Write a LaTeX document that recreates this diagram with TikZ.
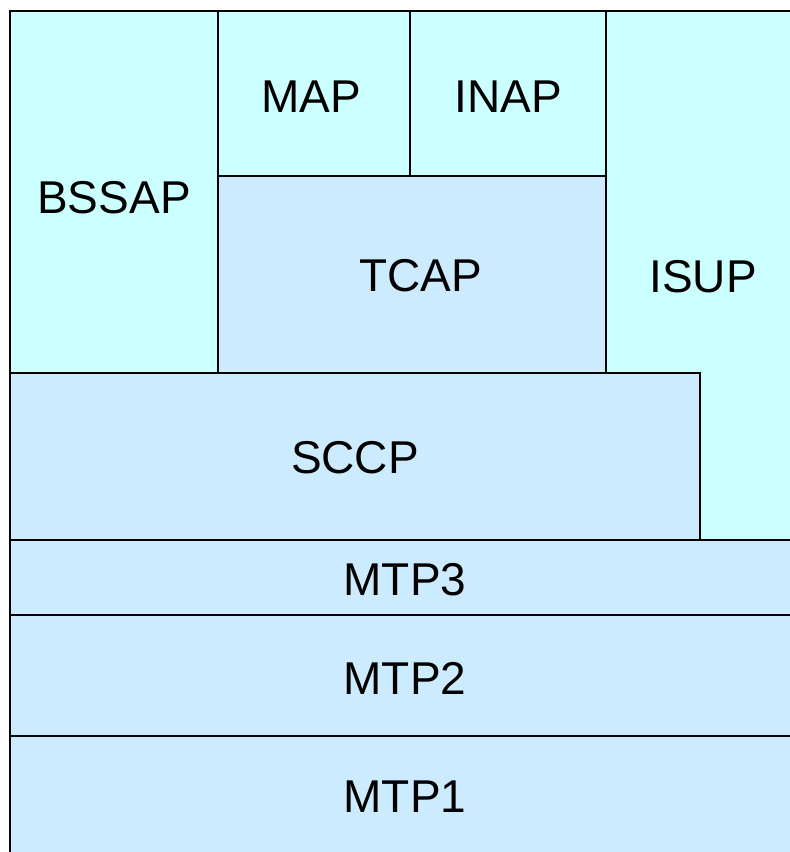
\documentclass[tikz,border=0pt]{standalone}
\usepackage{fontspec}
\setmainfont{Liberation Sans}
\definecolor{appcyan}{HTML}{CCFFFF}
\definecolor{laybl}{HTML}{CCEBFF}
\begin{document}
\begin{tikzpicture}[x=1pt,y=-1pt,
  upper/.style={fill=appcyan,draw=black,line width=2pt},
  lower/.style={fill=laybl,draw=black,line width=2pt},
  lbl/.style={font=\fontsize{46}{55}\selectfont,inner sep=0pt,anchor=center}]
\useasboundingbox (0,0) rectangle (790,852);
\clip (0,0) rectangle (790,852);
% application parts
\draw[upper] (9.5,11) rectangle (218,373);
\draw[upper] (606,11) rectangle (800,540);
\draw[upper] (218,11) rectangle (409.5,177);
\draw[upper] (409.5,11) rectangle (606,176);
% transaction and transport layers
\draw[lower] (218,176) rectangle (606,373);
\draw[lower] (9.5,373) rectangle (700,539.5);
\draw[lower] (9.5,539.5) rectangle (800,615);
\draw[lower] (9.5,615) rectangle (800,736);
\draw[lower] (9.5,736) rectangle (800,870);
% labels
\node[lbl] (bssap) at (114,198) {BSSAP};
\node[lbl] (map) at (311,97) {MAP};
\node[lbl] (inap) at (508,97) {INAP};
\node[lbl] (tcap) at (421,276) {TCAP};
\node[lbl] (isup) at (703,277) {ISUP};
\node[lbl] (sccp) at (355,458) {SCCP};
\node[lbl] (mtp3) at (405,580) {MTP3};
\node[lbl] (mtp2) at (405,678) {MTP2};
\node[lbl] (mtp1) at (405,797) {MTP1};
\end{tikzpicture}
\end{document}
